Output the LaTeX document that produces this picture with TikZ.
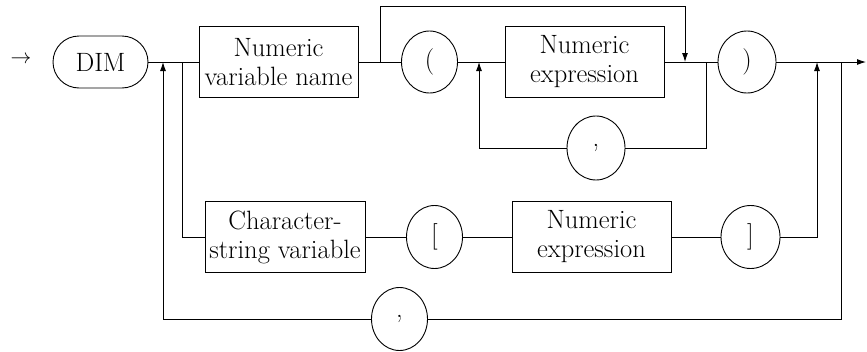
\documentclass[tikz,border=0pt]{standalone}
\usetikzlibrary{shapes.geometric,arrows.meta}
\begin{document}
\begin{tikzpicture}[x=1pt,y=-1pt,
  line width=0.9pt,
  lbl/.style={font=\fontsize{26.5}{29}\selectfont},
  box/.style={draw, rectangle, inner sep=0pt, minimum width=159pt, minimum height=71pt, align=center, lbl},
  term/.style={draw, ellipse, inner sep=0pt, minimum width=56pt, minimum height=62pt, lbl},
  arr/.style={-{Latex[length=9pt,width=6pt]}}]
\useasboundingbox (0,0) rectangle (867,351);

% nodes
\node[font=\fontsize{22}{24}\selectfont] (start) at (21,60) {$\rightarrow$};
\node[draw, rounded corners=26pt, minimum width=95pt, minimum height=52pt, inner sep=0pt, lbl] (dim) at (100.5,62) {DIM};
\node[box] (nvn) at (278.5,62) {Numeric\\variable name};
\node[term] (lp) at (429.5,62) {(};
\node[box] (ne1) at (584.5,62) {Numeric\\expression};
\node[term, minimum width=58pt, minimum height=64pt] (mc) at (596,148) {,};
\node[term, minimum width=58pt] (rp) at (747,62) {)};
\node[box, minimum width=160pt] (cs) at (285,237) {Character-\\string variable};
\node[term, minimum height=63pt] (lb) at (434.5,237) {[};
\node[box] (ne2) at (591.5,237) {Numeric\\expression};
\node[term, minimum width=59pt, minimum height=63pt] (rb) at (750.5,237) {]};
\node[term, minimum height=63pt] (bc) at (399.5,319) {,};

% junction coordinates
\coordinate (j1) at (163,62);
\coordinate (j2) at (182,62);
\coordinate (j3) at (380,62);
\coordinate (t1) at (380,6);
\coordinate (t2) at (685,6);
\coordinate (j4) at (685,62);
\coordinate (j7) at (479,62);
\coordinate (j5) at (706,62);
\coordinate (j8) at (817,62);
\coordinate (j6) at (841,62);
\coordinate (br) at (841,319);
\coordinate (bl) at (163,319);
\coordinate (fin) at (866,62);

% main line
\draw (dim.east) -- (nvn.west);
\draw (nvn.east) -- (lp.west);
\draw (lp.east) -- (ne1.west);
\draw (ne1.east) -- (rp.west);
\draw[arr] (rp.east) -- (fin);

% top bypass
\draw[arr] (j3) -- (t1) -- (t2) -- (j4);

% comma loop in parentheses
\draw (j5) |- (mc.east);
\draw[arr] (mc.west) -| (j7);

% string branch
\draw (j2) |- (cs.west);
\draw (cs.east) -- (lb.west);
\draw (lb.east) -- (ne2.west);
\draw (ne2.east) -- (rb.west);
\draw[arr] (rb.east) -| (j8);

% outer comma loop
\draw (j6) -- (br) -- (bc.east);
\draw (bc.west) -- (bl);
\draw[arr] (bl) -- (j1);
\end{tikzpicture}
\end{document}
